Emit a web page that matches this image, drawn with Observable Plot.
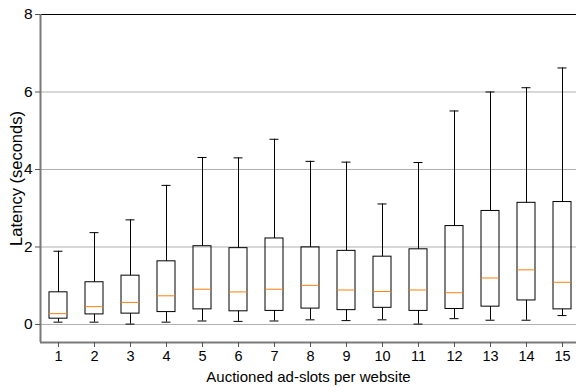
<!DOCTYPE html>
<html><head><meta charset="utf-8">
<script src="https://cdn.jsdelivr.net/npm/d3@7"></script>
<script src="https://cdn.jsdelivr.net/npm/@observablehq/plot@0.6"></script>
<style>body{margin:0;background:#fff;overflow:hidden} svg{display:block}</style>
</head><body><div id="chart"></div>
<script>
const slots = [1,2,3,4,5,6,7,8,9,10,11,12,13,14,15];
const whiskerLow = [0.06,0.06,0.01,0.06,0.09,0.08,0.09,0.12,0.10,0.12,0.01,0.15,0.11,0.11,0.23];
const q1 =         [0.15,0.26,0.28,0.32,0.39,0.34,0.35,0.41,0.37,0.43,0.35,0.40,0.46,0.62,0.39];
const median =     [0.28,0.46,0.57,0.74,0.91,0.84,0.91,1.01,0.89,0.85,0.89,0.82,1.20,1.41,1.09];
const q3 =         [0.83,1.09,1.26,1.63,2.02,1.97,2.22,1.99,1.90,1.75,1.94,2.54,2.93,3.14,3.16];
const whiskerHigh =[1.89,2.37,2.70,3.59,4.31,4.30,4.78,4.21,4.19,3.11,4.18,5.51,6.00,6.11,6.62];
const yTicks = [0,2,4,6,8];
const gridTicks = [0,2,4,6];

const data = slots.map((s,i)=>({x:s, lo:whiskerLow[i], q1:q1[i], med:median[i], q3:q3[i], hi:whiskerHigh[i]}));
const yMin = -0.465, yMax = 8;
const font = "Liberation Sans, Arial, sans-serif";

const chart = Plot.plot({
  width: 576, height: 387,
  marginLeft: 40, marginTop: 14, marginBottom: 45, marginRight: 0,
  style: {fontFamily: font, background: "#fff"},
  x: {type: "linear", domain: [0.5, 15.5], range: [40, 580]},
  y: {domain: [yMin, yMax]},
  marks: [
    Plot.gridY(gridTicks, {stroke: "#b0b0b0", strokeOpacity: 1, strokeWidth: 1}),
    Plot.ruleX(data, {x: "x", y1: "lo", y2: "q1", stroke: "#000", strokeWidth: 1}),
    Plot.ruleX(data, {x: "x", y1: "q3", y2: "hi", stroke: "#000", strokeWidth: 1}),
    Plot.ruleY(data, {y: "lo", x1: d => d.x - 0.125, x2: d => d.x + 0.125, stroke: "#000"}),
    Plot.ruleY(data, {y: "hi", x1: d => d.x - 0.125, x2: d => d.x + 0.125, stroke: "#000"}),
    Plot.rect(data, {x1: d => d.x - 0.25, x2: d => d.x + 0.25, y1: "q1", y2: "q3", fill: "none", stroke: "#000", strokeWidth: 1}),
    Plot.ruleY(data, {y: "med", x1: d => d.x - 0.25, x2: d => d.x + 0.25, stroke: "#ff7f0e", strokeWidth: 1}),
    Plot.ruleY([yMax], {stroke: "#000", strokeWidth: 1}),
    Plot.ruleY([yMin], {stroke: "#7a7a7a", strokeWidth: 2}),
    Plot.ruleX([0.5], {stroke: "#7a7a7a", strokeWidth: 2}),
    Plot.axisY(yTicks, {tickSize: 5, tickPadding: 3, fontSize: 15.5, label: null, stroke: "#555", fill: "#000"}),
    Plot.axisX(slots, {tickSize: 5, tickPadding: 3, fontSize: 14.5, label: null, tickFormat: d => String(d), stroke: "#555", fill: "#000"}),
    Plot.text(["Latency (seconds)"], {frameAnchor: "left", textAnchor: "middle", lineAnchor: "middle", dx: -23.5, rotate: -90, fontSize: 16.5, fill: "#000"}),
    Plot.text(["Auctioned ad-slots per website"], {frameAnchor: "bottom", textAnchor: "middle", lineAnchor: "bottom", dy: 39, fontSize: 15, fill: "#000"})
  ]
});
document.getElementById("chart").append(chart);
</script></body></html>
